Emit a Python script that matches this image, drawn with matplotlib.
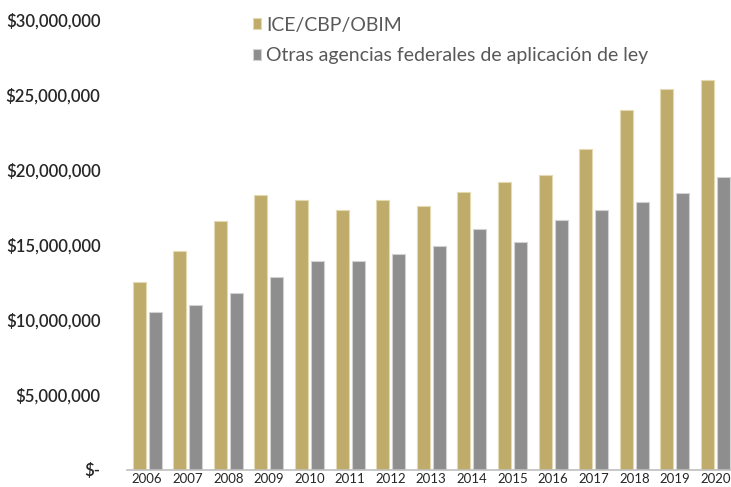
import matplotlib
matplotlib.use('Agg')
import matplotlib.pyplot as plt
import numpy as np
from matplotlib.ticker import FuncFormatter

years = ['2006', '2007', '2008', '2009', '2010', '2011', '2012', '2013',
         '2014', '2015', '2016', '2017', '2018', '2019', '2020']
ice_cbp_obim = [12.53, 14.58, 16.58, 18.31, 17.98, 17.31, 17.98, 17.58,
                18.53, 19.20, 19.64, 21.38, 23.98, 25.38, 26.02]
otras_agencias = [10.55, 11.00, 11.82, 12.89, 13.93, 13.93, 14.38, 14.93,
                  16.07, 15.20, 16.69, 17.33, 17.89, 18.47, 19.51]
series_names = ['ICE/CBP/OBIM', 'Otras agencias federales de aplicación de ley']

gold = '#BFAC6B'
gray = '#8E8E8E'

plt.rcParams['font.family'] = ['Lato', 'DejaVu Sans']

fig = plt.figure(figsize=(7.31, 4.87), dpi=100)
W, H = 731, 487
x_left, x_right = 126.8, 735.8
y_bot, y_top = 470, 20
ax = fig.add_axes([x_left / W, (H - y_bot) / H, (x_right - x_left) / W, (y_bot - y_top) / H])

x = np.arange(len(years))
bw = 0.32
off = 0.195
gold_vals = np.array(ice_cbp_obim) * 1e6
gray_vals = np.array(otras_agencias) * 1e6
b1 = ax.bar(x - off, gold_vals, bw, color=gold, edgecolor='#E3D9B2', linewidth=0.8, label=series_names[0])
b2 = ax.bar(x + off, gray_vals, bw, color=gray, edgecolor='#D2D2D2', linewidth=0.8, label=series_names[1])

ax.set_xlim(-0.5, len(years) - 0.5)
ax.set_ylim(0, 30e6)
ax.set_yticks(np.arange(0, 30e6 + 1, 5e6))


def money(v, pos):
    if v == 0:
        return '$-'
    return '${:,.0f}'.format(v)


ax.yaxis.set_major_formatter(FuncFormatter(money))
ax.set_xticks(x)
ax.set_xticklabels(years, fontsize=9.5, color='#262626')
for lab in ax.get_yticklabels():
    lab.set_fontsize(12)
    lab.set_fontweight('semibold')
    lab.set_color('#262626')
ax.tick_params(axis='y', length=0, pad=19)
ax.tick_params(axis='x', length=0, pad=2)

for s in ['top', 'right', 'left']:
    ax.spines[s].set_visible(False)
ax.spines['bottom'].set_color('#BFBFBF')
ax.spines['bottom'].set_linewidth(1.2)

leg = fig.legend(handles=[b1, b2], labels=series_names, loc='upper left',
                 bbox_to_anchor=(235 / W, 1 + 1 / H), frameon=False,
                 handlelength=0.45, handleheight=0.45, handletextpad=0.25,
                 labelspacing=0.72, fontsize=14)
for t in leg.get_texts():
    t.set_color('#595959')

fig.savefig('out.png', dpi=100)
